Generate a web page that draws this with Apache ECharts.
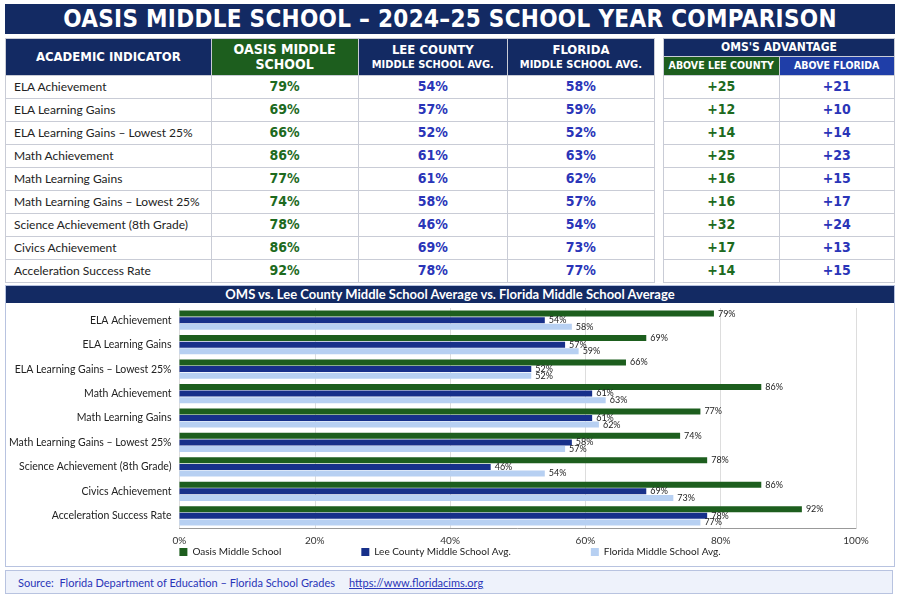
<!DOCTYPE html>
<html>
<head>
<meta charset="utf-8">
<script src="https://cdn.jsdelivr.net/npm/echarts@6/dist/echarts.min.js"></script>
<style>
  body { margin: 0; width: 900px; height: 600px; background: #fff; font-family: "Liberation Sans Narrow", "DejaVu Sans Condensed", sans-serif; position: relative; overflow: hidden; }
  .banner { position: absolute; left: 5px; top: 4px; width: 890px; height: 30px; background: #132a63; color: #fff; font-weight: bold; font-size: 24px; text-align: center; line-height: 30px; letter-spacing: 0.3px; }
  table { border-collapse: collapse; position: absolute; font-size: 13px; table-layout: fixed; }
  td, th { border: 1px solid #c9ccd6; padding: 0; line-height: 1.1; overflow: hidden; }
  tbody tr { height: 23px; }
  th { color: #fff; font-weight: bold; }
  #main-t { left: 5px; top: 38px; width: 650px; }
  #adv-t { left: 663px; top: 38px; width: 232px; }
  .hn { background: #132a63; }
  .hg { background: #1d5e1e; }
  .hb { background: #1f3ea8; }
  td.lab { padding-left: 8px; color: #222; font-family: "Lato", sans-serif; font-size: 12px; }
  td.g { color: #1d6a1e; text-align: center; font-weight: bold; font-size: 14px; }
  td.b { color: #2a35b8; text-align: center; font-weight: bold; font-size: 14px; }
  #panel { position: absolute; left: 5px; top: 285px; width: 888px; height: 280px; border: 1px solid #b8c3e0; }
  #ctitle { height: 17px; background: #132a63; color: #fff; font-family: "Lato", sans-serif; font-weight: bold; font-size: 13px; text-align: center; line-height: 17px; }
  #chart { position: absolute; left: 0; top: 17px; width: 888px; height: 263px; }
  #foot { position: absolute; left: 5px; top: 570px; width: 888px; height: 24px; border: 1px solid #b8c3e0; background: #eef2fb; color: #2a35b8; font-family: "Lato", sans-serif; font-size: 11px; line-height: 24px; padding-left: 12px; box-sizing: border-box; }
</style>
</head>
<body>
<div class="banner">OASIS MIDDLE SCHOOL – 2024–25 SCHOOL YEAR COMPARISON</div>
<table id="main-t"><thead><tr style="height:37px">
  <th class="hn" style="width:203px">ACADEMIC INDICATOR</th>
  <th class="hg" style="width:145px;font-size:14px">OASIS MIDDLE<br>SCHOOL</th>
  <th class="hn" style="width:147px">LEE COUNTY<br><span style="font-size:11px">MIDDLE SCHOOL AVG.</span></th>
  <th class="hn" style="width:145px">FLORIDA<br><span style="font-size:11px">MIDDLE SCHOOL AVG.</span></th>
</tr></thead><tbody id="tb1"></tbody></table>
<table id="adv-t"><thead>
  <tr style="height:18px"><th class="hn" colspan="2" style="font-size:12px">OMS'S ADVANTAGE</th></tr>
  <tr style="height:19px"><th class="hg" style="font-size:10.5px">ABOVE LEE COUNTY</th><th class="hb" style="font-size:10.5px">ABOVE FLORIDA</th></tr>
</thead><tbody id="tb2"></tbody></table>
<div id="panel"><div id="ctitle">OMS vs. Lee County Middle School Average vs. Florida Middle School Average</div><div id="chart"></div></div>
<div id="foot">Source:&nbsp; Florida Department of Education – Florida School Grades &nbsp;&nbsp;&nbsp;&nbsp;<u>https://www.floridacims.org</u></div>
<script>
var indicators = ['ELA Achievement', 'ELA Learning Gains', 'ELA Learning Gains – Lowest 25%', 'Math Achievement', 'Math Learning Gains', 'Math Learning Gains – Lowest 25%', 'Science Achievement (8th Grade)', 'Civics Achievement', 'Acceleration Success Rate'];
var oasis = [79, 69, 66, 86, 77, 74, 78, 86, 92];
var lee = [54, 57, 52, 61, 61, 58, 46, 69, 78];
var florida = [58, 59, 52, 63, 62, 57, 54, 73, 77];
var xTicks = ['0%', '20%', '40%', '60%', '80%', '100%'];

var h1 = '', h2 = '';
indicators.forEach(function (name, i) {
  h1 += '<tr><td class="lab">' + name + '</td><td class="g">' + oasis[i] + '%</td><td class="b">' + lee[i] + '%</td><td class="b">' + florida[i] + '%</td></tr>';
  h2 += '<tr><td class="g">+' + (oasis[i] - lee[i]) + '</td><td class="b">+' + (oasis[i] - florida[i]) + '</td></tr>';
});
document.getElementById('tb1').innerHTML = h1;
document.getElementById('tb2').innerHTML = h2;

var myChart = echarts.init(document.getElementById('chart'));
function bar(name, data, color) {
  return {
    name: name, type: 'bar', data: data, barWidth: 6,
    itemStyle: { color: color },
    label: { show: true, position: 'right', formatter: '{c}%', fontSize: 9, color: '#222', distance: 4 }
  };
}
myChart.setOption({
  animation: false,
  textStyle: { fontFamily: 'Lato' },
  grid: { left: 169, right: 38, top: 5, bottom: 38 },
  xAxis: {
    type: 'value', min: 0, max: 100, interval: 20,
    axisLabel: { formatter: function (v) { return xTicks[v / 20]; }, fontSize: 10, color: '#333' },
    splitLine: { lineStyle: { color: '#ddd' } },
    axisLine: { show: true, lineStyle: { color: '#999' } }
  },
  yAxis: {
    type: 'category', data: indicators, inverse: true,
    axisTick: { show: false }, axisLine: { show: false },
    axisLabel: { fontSize: 10.5, color: '#222', margin: 8 }
  },
  legend: {
    bottom: 4, itemWidth: 8, itemHeight: 8, itemGap: 80, icon: 'rect',
    textStyle: { fontSize: 10, color: '#222' }
  },
  series: [
    bar('Oasis Middle School', oasis, '#1d5e1e'),
    bar('Lee County Middle School Avg.', lee, '#17308a'),
    bar('Florida Middle School Avg.', florida, '#b7d0f2')
  ]
});
</script>
</body>
</html>
